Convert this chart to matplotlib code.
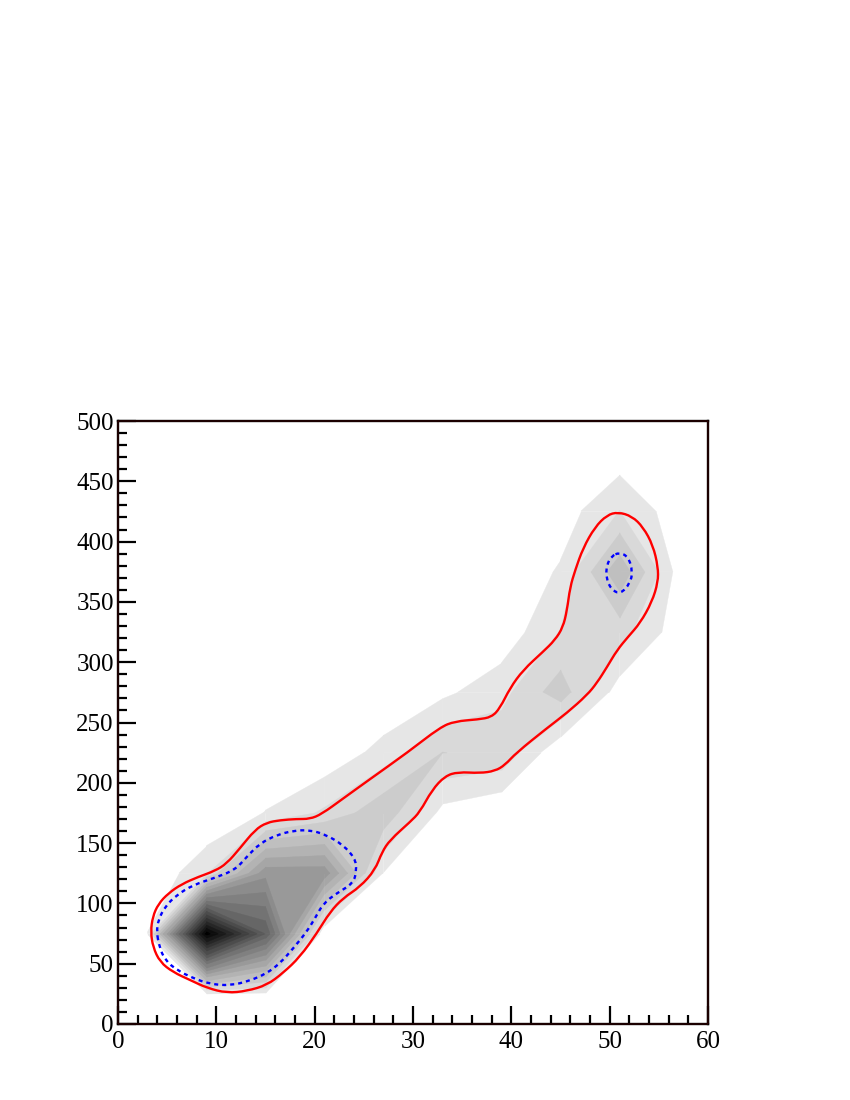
import numpy as np
import matplotlib
matplotlib.use("Agg")
import matplotlib.pyplot as plt
from matplotlib.path import Path
from matplotlib.patches import PathPatch, Rectangle
from matplotlib.collections import PolyCollection

bin_x = [3, 9, 15, 21, 27, 33, 39, 45, 51, 57]
bin_y = [25, 75, 125, 175, 225, 275, 325, 375, 425, 475]
row_25 = [0, 0.9, 0.85, 0, 0, 0, 0, 0, 0, 0]
row_75 = [1.03, 19.5, 11.9, 0, 0, 0, 0, 0, 0, 0]
row_125 = [0, 1.85, 7.66, 7.6, 0.95, 0, 0, 0, 0, 0]
row_175 = [0, 0, 1.05, 2.18, 3.77, 0.67, 0.05, 0, 0, 0]
row_225 = [0, 0, 0, 0.2, 1.4, 3.02, 2.77, 0.1, 0, 0]
row_275 = [0, 0, 0, 0, 0, 0.76, 1.67, 3.57, 0.47, 0]
row_325 = [0, 0, 0, 0, 0, 0, 0.31, 2.03, 2.44, 0.44]
row_375 = [0, 0, 0, 0, 0, 0, 0, 1.14, 4.78, 0.6]
row_425 = [0, 0, 0, 0, 0, 0, 0, 0.44, 2.02, 0.38]
row_475 = [0, 0, 0, 0, 0, 0, 0, 0, 0.33, 0]
contour_levels = list(range(1, 20))

red_x = [3.33, 3.53, 4.1, 5.12, 6.48, 8.17, 9.86, 11.05, 12.4, 13.93, 15.12, 16.5, 18.17, 19.5, 20.7,
         22.9, 25.45, 29.5, 32.75, 34.27, 36.6, 38, 38.85, 39.87, 41.2, 43.2, 44.44, 45.25, 45.66, 45.97,
         46.5, 47.3, 48.5, 49.73, 50.85, 52.27, 53.4, 54.4, 54.92, 54.92, 54.3, 53.1, 51.87, 50.75, 49.73,
         48.7, 47.7, 45.66, 43.63, 40.48, 39.36, 38.34, 36.8, 34.58, 33.25, 31.93, 30.7, 29.7, 27.66, 26.85,
         26.14, 24.6, 22.9, 21.56, 20.24, 18.5, 16.78, 15.15, 13.12, 11.08, 9.05, 7.32, 5.6, 4.27, 3.56]
red_y = [76.5, 89, 99.5, 108.4, 116, 122, 127, 133, 145.7, 161, 167, 169, 170, 170, 174,
         187, 202, 225.5, 246, 251, 252.5, 254.5, 262, 278.6, 293.5, 308.5, 318.4, 329, 343, 362,
         376.5, 394.7, 412, 422, 424.5, 421, 412, 397, 379, 366.5, 350, 332.5, 321, 310, 296,
         282.8, 272.8, 258, 245.4, 224.7, 214.8, 209.8, 208, 209, 205.6, 194, 175.8, 167.5, 152.6, 142.6,
         127.7, 113.6, 104.5, 92.9, 75.5, 55.6, 42.3, 32.3, 27.4, 25.7, 29.9, 36.5, 43, 51.4, 63.8]
blue_x = [3.93, 4.1, 4.78, 5.97, 7.66, 9.7, 11.9, 13.1, 14.44, 16.14, 17.83, 19.53, 21.2, 22.9, 24.1, 24.27,
          23.93, 22.24, 20.88, 20.03, 19.19, 17.83, 16.47, 15.12, 13.42, 11.39, 9.36, 7.66, 5.97, 4.78, 4.2]
blue_y = [76.5, 86.2, 97.3, 107, 115.3, 120.8, 127.7, 138.7, 149.8, 156.7, 160.3, 160.9, 156.7, 148.4, 137.4, 127.7,
          116.7, 108.4, 100, 87.6, 76.5, 62.8, 50.3, 42, 35.9, 31.8, 33.2, 37.9, 44.8, 53, 64.1]
blue2_x = [50.98, 51.9, 52.34, 52.07, 51.12, 50.2, 49.63, 49.7, 50.2]
blue2_y = [391, 387.5, 375, 365.4, 356.6, 359.9, 369.6, 380.6, 388]
x_ticks = [0, 10, 20, 30, 40, 50, 60]
y_ticks = [0, 50, 100, 150, 200, 250, 300, 350, 400, 450, 500]

plt.rcParams["font.family"] = ["Liberation Serif", "DejaVu Serif"]
W, H = 850, 1100
fig = plt.figure(figsize=(W / 100, H / 100), dpi=100, facecolor="white")
ax = fig.add_axes([118 / W, 1 - 1024 / H, 590 / W, 603 / H])

z = np.array([row_25, row_75, row_125, row_175, row_225, row_275, row_325, row_375, row_425, row_475])


def cell_polygon(corners, level):
    """Part of one grid cell at or above level; crossings on its edges are joined straight."""
    out = []
    for i in range(4):
        x0, y0, v0 = corners[i]
        x1, y1, v1 = corners[(i + 1) % 4]
        if v0 >= level:
            out.append((x0, y0))
        if (v0 >= level) != (v1 >= level):
            t = (level - v0) / (v1 - v0)
            out.append((x0 + t * (x1 - x0), y0 + t * (y1 - y0)))
    return out


for k, level in enumerate(contour_levels):
    polys = []
    for r in range(z.shape[0] - 1):
        for c in range(z.shape[1] - 1):
            corners = [(bin_x[c], bin_y[r], z[r, c]), (bin_x[c + 1], bin_y[r], z[r, c + 1]),
                       (bin_x[c + 1], bin_y[r + 1], z[r + 1, c + 1]), (bin_x[c], bin_y[r + 1], z[r + 1, c])]
            p = cell_polygon(corners, level)
            if len(p) >= 3:
                polys.append(p)
    grey = str(max(0.0, 0.9 - 0.05 * k))
    ax.add_collection(PolyCollection(polys, facecolors=grey, edgecolors=grey, linewidths=0.25, zorder=1 + k * 0.01))


def closed_smooth(xs, ys, **kw):
    pts = np.column_stack([xs, ys])
    mids = (pts + np.roll(pts, -1, axis=0)) / 2
    verts = [mids[-1]]
    codes = [Path.MOVETO]
    for p, m in zip(pts, mids):
        verts += [p, m]
        codes += [Path.CURVE3, Path.CURVE3]
    ax.add_patch(PathPatch(Path(verts, codes), fill=False, zorder=3, **kw))


closed_smooth(red_x, red_y, edgecolor="#ff0000", lw=1.7)
dash = dict(edgecolor="#0000ff", lw=1.7, linestyle=(0, (1.7, 1.7)))
closed_smooth(blue_x, blue_y, **dash)
closed_smooth(blue2_x, blue2_y, **dash)

ax.set_xlim(0, 60)
ax.set_ylim(0, 500)
ax.set_xticks(x_ticks)
ax.set_yticks(y_ticks)
ax.set_xticks(np.arange(0, 61, 2), minor=True)
ax.set_yticks(np.arange(0, 501, 10), minor=True)
ax.tick_params(which="major", direction="in", length=13, width=1.6, labelsize=18, pad=3, color="black")
ax.tick_params(which="minor", direction="in", length=6.5, width=1.6)
ax.tick_params(axis="x", which="major", pad=5)
for s in ax.spines.values():
    s.set_linewidth(1.7)
    s.set_zorder(5)
ax.add_patch(Rectangle((0, 0), 1, 1, transform=ax.transAxes, fill=False, edgecolor="#ff0000",
                       lw=0.35, alpha=0.45, zorder=6, clip_on=False))

fig.savefig("out.png", dpi=100, facecolor="white")
